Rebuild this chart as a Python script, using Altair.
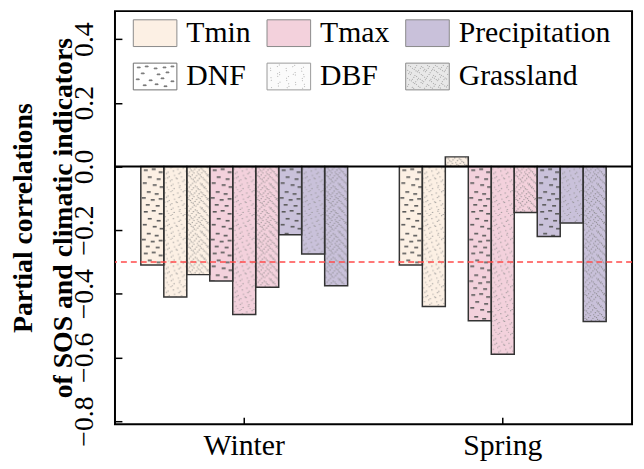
import base64
import altair as alt
import pandas as pd

# ---------------- data ----------------
seasons = ["Winter", "Spring"]
indicators = ["Tmin", "Tmax", "Precipitation"]
types = ["DNF", "DBF", "Grassland"]
# order: Tmin(DNF, DBF, Grassland), Tmax(...), Precipitation(...)
winter_values = [-0.31, -0.41, -0.34, -0.36, -0.465, -0.38, -0.215, -0.275, -0.375]
spring_values = [-0.31, -0.44, 0.03, -0.485, -0.59, -0.145, -0.22, -0.178, -0.487]
y_ticks = [-0.8, -0.6, -0.4, -0.2, 0.0, 0.2, 0.4]
threshold = [-0.3]
zero_line = [0.0]

# ---------------- styles ----------------
FONT = "Liberation Serif"
fill_colors = ["#fcf0e4", "#f3d1dc", "#c9c1da"]
legend_labels = indicators + types
legend_colors = fill_colors + ["#ffffff", "#fbfbfb", "#e8e8e8"]
legend_strokes = ["#8a8a8a"] * 3 + ["#6e6e6e", "#9a9a9a", "#8a8a8a"]


def jitter_points(w, h, step, a=37, b=61):
    pts, k = [], 0
    for gy in range(0, h, step):
        for gx in range(0, w, step):
            k += 1
            pts.append((gx + (k * a % 97) / 97 * step, gy + (k * b % 89) / 89 * step))
    return pts


def svg_uri(inner, tw, th):
    svg = (
        '<svg xmlns="http://www.w3.org/2000/svg"><defs>'
        f'<pattern id="p" patternUnits="userSpaceOnUse" width="{tw}" height="{th}">{inner}</pattern>'
        '</defs><rect x="0" y="0" width="100%" height="100%" fill="url(#p)"/></svg>'
    )
    return "data:image/svg+xml;base64," + base64.b64encode(svg.encode()).decode()


dnf_dashes = [(3, 3), (11, 2), (18, 5), (7, 10), (16, 12), (2, 16), (12, 18), (19, 20),
              (6, 25), (14, 27), (1, 31), (10, 33), (18, 32), (5, 38), (15, 39)]
dnf_inner = "".join(f'<rect x="{x}" y="{y}" width="4" height="1.6" fill="#5a5a5a"/>' for x, y in dnf_dashes)
dbf_inner = "".join(f'<circle cx="{x:.2f}" cy="{y:.2f}" r="0.6" fill="#8e8e8e"/>'
                    for x, y in jitter_points(24, 24, 4))
grass_inner = "".join(f'<circle cx="{x:.2f}" cy="{y:.2f}" r="0.6" fill="#808080"/>'
                      for x, y in jitter_points(24, 24, 3, 53, 29))
pattern_uri = {
    "DNF": svg_uri(dnf_inner, 24, 42),
    "DBF": svg_uri(dbf_inner, 24, 24),
    "Grassland": svg_uri(grass_inner, 24, 24),
}

# legend swatch paths (custom symbol units: 1 unit = 13.5 px for size 729)
S = 13.5
SW, SH = 44, 27


def box_path():
    return f"M-1,-1H{-1 + SW / S:.4f}V1H-1Z"


def sub_rect(px, py, w, h):
    return f"M{-1 + px / S:.3f},{-1 + py / S:.3f}h{w / S:.3f}v{h / S:.3f}h{-w / S:.3f}Z"


dnf_leg = [(4, 4), (12, 3), (21, 5), (30, 4), (38, 3), (8, 10), (24, 11), (33, 9),
           (3, 16), (16, 17), (28, 15), (38, 18), (10, 22), (22, 21), (31, 23)]
path_dnf = box_path() + "".join(sub_rect(x, y, 3, 0.7) for x, y in dnf_leg)
path_dbf = box_path() + "".join(sub_rect(x + 1.5, y + 1.5, 0.2, 0.2)
                                for x, y in jitter_points(40, 24, 5) if x < 41 and y < 24)
path_grass = box_path() + "".join(sub_rect(x + 1.5, y + 1.5, 0.2, 0.2)
                                  for x, y in jitter_points(40, 24, 3, 53, 29) if x < 41 and y < 24)
legend_paths = [box_path(), box_path(), box_path(), path_dnf, path_dbf, path_grass]

# ---------------- table ----------------
keys = [f"{i} {t}" for i in indicators for t in types]
season_values = {"Winter": winter_values, "Spring": spring_values}
rows = []
for s in seasons:
    k = 0
    for ind in indicators:
        for typ in types:
            rows.append({"season": s, "ind": ind, "type": typ, "key": f"{ind} {typ}",
                         "value": season_values[s][k], "pattern": pattern_uri[typ]})
            k += 1
df = pd.DataFrame(rows)

# ---------------- encodings ----------------
y_scale = alt.Scale(domain=[-0.81, 0.488], nice=False, zero=False)
y_axis = alt.Axis(
    title=["Partial correlations", "of SOS and climatic indicators"],
    values=y_ticks, format=".1f", labelAngle=270, labelAlign="center",
    labelBaseline="alphabetic", labelPadding=23, labelFlush=False, labelOverlap=False,
    offset=-7, tickSize=7, domain=False, titlePadding=-7, titleLineHeight=40,
)
x_axis = alt.Axis(title=None, labelAngle=0, labelPadding=7, offset=-7, tickSize=7, domain=False,
                  labelFontSize=30)

X = alt.X("season:N", sort=seasons, scale=alt.Scale(paddingInner=0.2, paddingOuter=0.1), axis=x_axis)
XO = alt.XOffset("key:N", sort=keys)
Y = alt.Y("value:Q", stack=None, scale=y_scale, axis=y_axis)

leg = alt.Legend(
    title=None, orient="none", legendX=17, legendY=7, direction="horizontal", columns=3,
    columnPadding=14, rowPadding=12, symbolSize=729,
    symbolStrokeWidth=1, symbolOpacity=1, labelFont=FONT, labelFontSize=30,
    labelColor="black", labelOffset=25, padding=0, labelLimit=300,
)

base = alt.Chart(df)

points = base.transform_calculate(half="datum.value / 2").mark_point(
    filled=True, opacity=1, size=20, strokeWidth=1
).encode(
    x=X, xOffset=XO,
    y=alt.Y("half:Q", scale=y_scale, axis=y_axis),
    fill=alt.Fill("ind:N", scale=alt.Scale(domain=legend_labels, range=legend_colors), legend=leg),
    stroke=alt.Stroke("ind:N", scale=alt.Scale(domain=legend_labels, range=legend_strokes), legend=leg),
    shape=alt.Shape("ind:N", scale=alt.Scale(domain=legend_labels, range=legend_paths), legend=leg),
)

bars = base.mark_bar(strokeWidth=0).encode(
    x=X, xOffset=XO, y=Y, y2=alt.datum(0),
    color=alt.Color("ind:N", scale=alt.Scale(domain=indicators, range=fill_colors), legend=None),
)

textures = base.mark_image(aspect=False).encode(
    x=X, xOffset=XO, y=Y, y2=alt.datum(0), url=alt.Url("pattern:N"),
)

outlines = base.mark_bar(fillOpacity=0, stroke="#333333", strokeWidth=1.5).encode(
    x=X, xOffset=XO, y=Y, y2=alt.datum(0),
)

zero_rule = alt.Chart(pd.DataFrame({"v": zero_line})).mark_rule(
    color="black", strokeWidth=2
).encode(y=alt.Y("v:Q", scale=y_scale, axis=y_axis))

thr_rule = alt.Chart(pd.DataFrame({"v": threshold})).mark_rule(
    color="#ff4b4b", strokeWidth=1.5, strokeDash=[6, 4]
).encode(y=alt.Y("v:Q", scale=y_scale, axis=y_axis))

chart = alt.layer(points, bars, textures, outlines, zero_rule, thr_rule).properties(
    width=522, height=417,
    padding={"left": 108, "top": 1, "right": 4, "bottom": 35},
    autosize=alt.AutoSizeParams(type="none"),
).configure_view(
    stroke="black", strokeWidth=2
).configure_axis(
    grid=False, labelFont=FONT, labelFontSize=28, labelColor="black",
    tickColor="black", tickWidth=1.5, titleFont=FONT, titleFontSize=28,
    titleFontWeight="bold", titleColor="black",
)

chart.save("out.html", embed_options={"renderer": "svg", "actions": False})
